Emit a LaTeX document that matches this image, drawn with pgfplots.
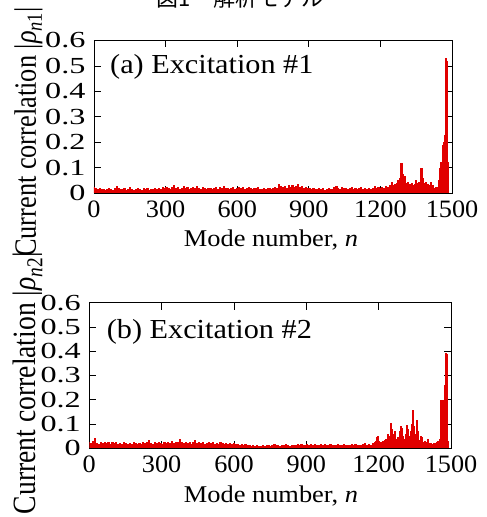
\documentclass[border=0pt]{standalone}
\usepackage{pgfplots}
\pgfplotsset{compat=1.18}
\usepackage{fontspec}
\setmainfont{Liberation Serif}[FakeStretch=1.1]
\newfontfamily\ylabfont{Liberation Serif}[FakeStretch=0.85]
\newfontfamily\ytickfont{Liberation Serif}[FakeStretch=1.4]
\newfontfamily\xtickfont{Liberation Serif}[FakeStretch=1.05]
\newfontfamily\cjk{Noto Sans CJK JP}
\definecolor{gpred}{RGB}{225,0,0}

\pgfplotsset{
  gpaxis/.style={
    scale only axis,
    anchor=south west,
    xmin=0, xmax=1500, ymin=0, ymax=0.6,
    xtick={0,300,600,900,1200,1500},
    ytick={0,0.1,0.2,0.3,0.4,0.5,0.6},
    yticklabels={0,0.1,0.2,0.3,0.4,0.5,0.6},
    tick pos=both, tick align=inside,
    major tick length=7pt,
    axis line style={line width=0.8pt},
    every tick/.style={black, line width=0.8pt},
    /pgf/number format/1000 sep={},
    /pgf/number format/assume math mode=true,
    yticklabel style={font=\fontsize{23}{23}\selectfont\ytickfont, xshift=-5pt},
    xticklabel style={font=\fontsize{25}{25}\selectfont\xtickfont, yshift=-4pt},
  },
  comb/.style={ycomb, draw=gpred, line width=2.2pt, mark=none},
}

\begin{document}
\begin{tikzpicture}[x=1pt,y=1pt]
% caption, cut off at the top of the page
\node[anchor=base] at (240,510) {\fontsize{22}{22}\selectfont\cjk 図1　解析モデル};

%% (a) Excitation #1
\begin{axis}[gpaxis, at={(94pt,324pt)}, width=358pt, height=152.5pt]
\addplot[comb] coordinates {
(0,0.022)(8,0.018)(16,0.015)(24,0.02)(32,0.014)(40,0.017)(48,0.012)(56,0.016)(64,0.02)(72,0.015)
(80,0.013)(88,0.018)(96,0.028)(104,0.02)(112,0.016)(120,0.014)(128,0.019)(136,0.012)(144,0.015)(152,0.022)
(160,0.017)(168,0.013)(176,0.016)(184,0.02)(192,0.014)(200,0.012)(208,0.018)(216,0.015)(224,0.021)(232,0.013)
(240,0.016)(248,0.014)(256,0.019)(264,0.015)(272,0.02)(280,0.017)(288,0.022)(296,0.018)(304,0.024)(312,0.02)
(320,0.016)(328,0.022)(336,0.03)(344,0.019)(352,0.024)(360,0.017)(368,0.021)(376,0.027)(384,0.018)(392,0.023)
(400,0.016)(408,0.02)(416,0.025)(424,0.018)(432,0.028)(440,0.021)(448,0.017)(456,0.024)(464,0.019)(472,0.015)
(480,0.021)(488,0.018)(496,0.014)(504,0.02)(512,0.024)(520,0.017)(528,0.022)(536,0.019)(544,0.026)(552,0.018)
(560,0.021)(568,0.015)(576,0.019)(584,0.023)(592,0.017)(600,0.021)(608,0.025)(616,0.018)(624,0.022)(632,0.016)
(640,0.02)(648,0.024)(656,0.019)(664,0.015)(672,0.021)(680,0.018)(688,0.023)(696,0.017)(704,0.014)(712,0.019)
(720,0.016)(728,0.021)(736,0.018)(744,0.015)(752,0.02)(760,0.024)(768,0.019)(776,0.035)(784,0.026)(792,0.022)
(800,0.028)(808,0.021)(816,0.03)(824,0.024)(832,0.033)(840,0.022)(848,0.027)(856,0.034)(864,0.023)(872,0.028)
(880,0.02)(888,0.025)(896,0.018)(904,0.021)(912,0.016)(920,0.019)(928,0.014)(936,0.017)(944,0.02)(952,0.015)
(960,0.018)(968,0.013)(976,0.016)(984,0.02)(992,0.017)(1000,0.015)(1008,0.022)(1016,0.028)(1024,0.019)(1032,0.016)
(1040,0.024)(1048,0.018)(1056,0.021)(1064,0.015)(1072,0.019)(1080,0.023)(1088,0.016)(1096,0.02)(1104,0.014)(1112,0.018)
(1120,0.022)(1128,0.016)(1136,0.02)(1144,0.015)(1152,0.019)(1160,0.017)(1168,0.021)(1176,0.026)(1184,0.018)(1192,0.023)
(1200,0.02)(1208,0.024)(1216,0.019)(1224,0.027)(1232,0.022)(1240,0.03)
(1244,0.025)(1248,0.045)(1252,0.03)(1256,0.028)(1260,0.035)(1264,0.026)(1268,0.04)(1272,0.03)(1276,0.05)(1280,0.035)
(1284,0.06)(1288,0.117)(1290,0.09)(1292,0.07)(1296,0.075)(1300,0.05)(1304,0.065)(1308,0.04)(1312,0.03)(1316,0.045)
(1320,0.025)(1324,0.035)(1328,0.02)(1332,0.04)(1336,0.03)(1340,0.025)(1344,0.035)(1348,0.05)(1352,0.03)(1356,0.04)
(1360,0.025)(1364,0.045)(1368,0.03)(1372,0.098)(1376,0.06)(1380,0.05)(1384,0.04)(1388,0.03)(1392,0.045)(1396,0.025)
(1400,0.035)(1404,0.02)(1408,0.03)(1412,0.045)(1416,0.025)(1420,0.03)(1424,0.02)(1428,0.015)(1432,0.025)(1436,0.018)
(1440,0.022)(1444,0.03)(1448,0.05)(1452,0.1)(1456,0.12)(1460,0.11)(1464,0.19)(1468,0.2)(1472,0.23)(1476,0.53)
(1478,0.52)(1480,0.3)(1482,0.12)(1484,0.05)
};
\end{axis}

%% (b) Excitation #2
\begin{axis}[gpaxis, at={(89.3pt,68.7pt)}, width=361.7pt, height=145.6pt]
\addplot[comb] coordinates {
(0,0.025)(8,0.02)(16,0.03)(24,0.041)(32,0.022)(40,0.018)(48,0.026)(56,0.021)(64,0.028)(72,0.02)
(80,0.024)(88,0.017)(96,0.027)(104,0.022)(112,0.026)(120,0.019)(128,0.023)(136,0.018)(144,0.024)(152,0.02)
(160,0.016)(168,0.022)(176,0.019)(184,0.025)(192,0.021)(200,0.017)(208,0.023)(216,0.019)(224,0.026)(232,0.02)
(240,0.024)(248,0.034)(256,0.022)(264,0.018)(272,0.024)(280,0.02)(288,0.027)(296,0.022)(304,0.018)(312,0.025)
(320,0.021)(328,0.028)(336,0.023)(344,0.03)(352,0.022)(360,0.027)(368,0.024)(376,0.04)(384,0.028)(392,0.022)
(400,0.026)(408,0.02)(416,0.024)(424,0.019)(432,0.028)(440,0.035)(448,0.022)(456,0.026)(464,0.02)(472,0.024)
(480,0.018)(488,0.022)(496,0.027)(504,0.02)(512,0.024)(520,0.018)(528,0.022)(536,0.019)(544,0.024)(552,0.02)
(560,0.017)(568,0.022)(576,0.019)(584,0.023)(592,0.017)(600,0.02)(608,0.016)(616,0.019)(624,0.014)(632,0.017)
(640,0.013)(648,0.016)(656,0.012)(664,0.015)(672,0.011)(680,0.013)(688,0.01)(696,0.012)(704,0.009)(712,0.011)
(720,0.013)(728,0.01)(736,0.012)(744,0.014)(752,0.011)(760,0.013)(768,0.016)(776,0.012)(784,0.015)(792,0.011)
(800,0.014)(808,0.012)(816,0.016)(824,0.013)(832,0.011)(840,0.014)(848,0.012)(856,0.015)(864,0.018)(872,0.013)
(880,0.016)(888,0.012)(896,0.015)(904,0.019)(912,0.014)(920,0.017)(928,0.013)(936,0.016)(944,0.012)(952,0.015)
(960,0.018)(968,0.013)(976,0.016)(984,0.012)(992,0.014)(1000,0.017)(1008,0.013)(1016,0.015)(1024,0.012)(1032,0.016)
(1040,0.013)(1048,0.015)(1056,0.017)(1064,0.013)(1072,0.015)(1080,0.012)(1088,0.016)(1096,0.014)(1104,0.017)(1112,0.013)
(1120,0.015)(1128,0.012)(1136,0.016)(1144,0.02)(1152,0.015)(1160,0.018)(1168,0.014)(1176,0.02)
(1180,0.018)(1184,0.025)(1188,0.03)(1192,0.045)(1196,0.05)(1200,0.03)(1204,0.02)(1208,0.025)(1212,0.018)(1216,0.022)
(1220,0.03)(1224,0.025)(1228,0.035)(1232,0.04)(1236,0.03)(1240,0.058)(1244,0.04)(1248,0.05)(1252,0.105)(1256,0.08)
(1260,0.05)(1264,0.06)(1268,0.07)(1272,0.04)(1276,0.03)(1280,0.045)(1284,0.025)(1288,0.07)(1292,0.09)(1296,0.085)
(1300,0.05)(1304,0.03)(1308,0.04)(1312,0.06)(1316,0.095)(1320,0.08)(1324,0.04)(1328,0.03)(1332,0.05)(1336,0.07)
(1340,0.1)(1344,0.158)(1348,0.09)(1352,0.06)(1356,0.04)(1360,0.117)(1364,0.07)(1368,0.035)(1372,0.03)(1376,0.05)
(1380,0.045)(1384,0.025)(1388,0.02)(1392,0.03)(1396,0.018)(1400,0.025)(1404,0.04)(1408,0.02)(1412,0.015)(1416,0.022)
(1420,0.018)(1424,0.012)(1428,0.02)(1432,0.015)(1436,0.022)(1440,0.018)(1444,0.025)(1448,0.03)(1452,0.02)(1456,0.04)
(1460,0.2)(1464,0.18)(1468,0.2)(1472,0.16)(1476,0.26)(1480,0.394)(1482,0.39)(1484,0.1)(1488,0.03)
};
\end{axis}

% panel texts and axis labels
\node[anchor=base west, inner sep=0pt] at (110,443.7) {\fontsize{27.5}{27.5}\selectfont (a) Excitation \#1};
\node[anchor=base west, inner sep=0pt] at (106.7,178.7) {\fontsize{27.5}{27.5}\selectfont (b) Excitation \#2};
\node[anchor=base, inner sep=0pt] at (271,270) {\fontsize{24}{24}\selectfont Mode number, \textit{n}};
\node[anchor=base, inner sep=0pt] at (271,15) {\fontsize{24}{24}\selectfont Mode number, \textit{n}};
\node[rotate=90, anchor=base, inner sep=0pt] at (36,385) {\fontsize{31}{31}\selectfont\ylabfont Current correlation |\textit{ρ}\textsubscript{\textit{n}1}|};
\node[rotate=90, anchor=base, inner sep=0pt] at (36,134) {\fontsize{32.5}{32.5}\selectfont\ylabfont Current correlation |\textit{ρ}\textsubscript{\textit{n}2}|};

\pgfresetboundingbox
\useasboundingbox (0,0) rectangle (487,517);
\end{tikzpicture}
\end{document}
